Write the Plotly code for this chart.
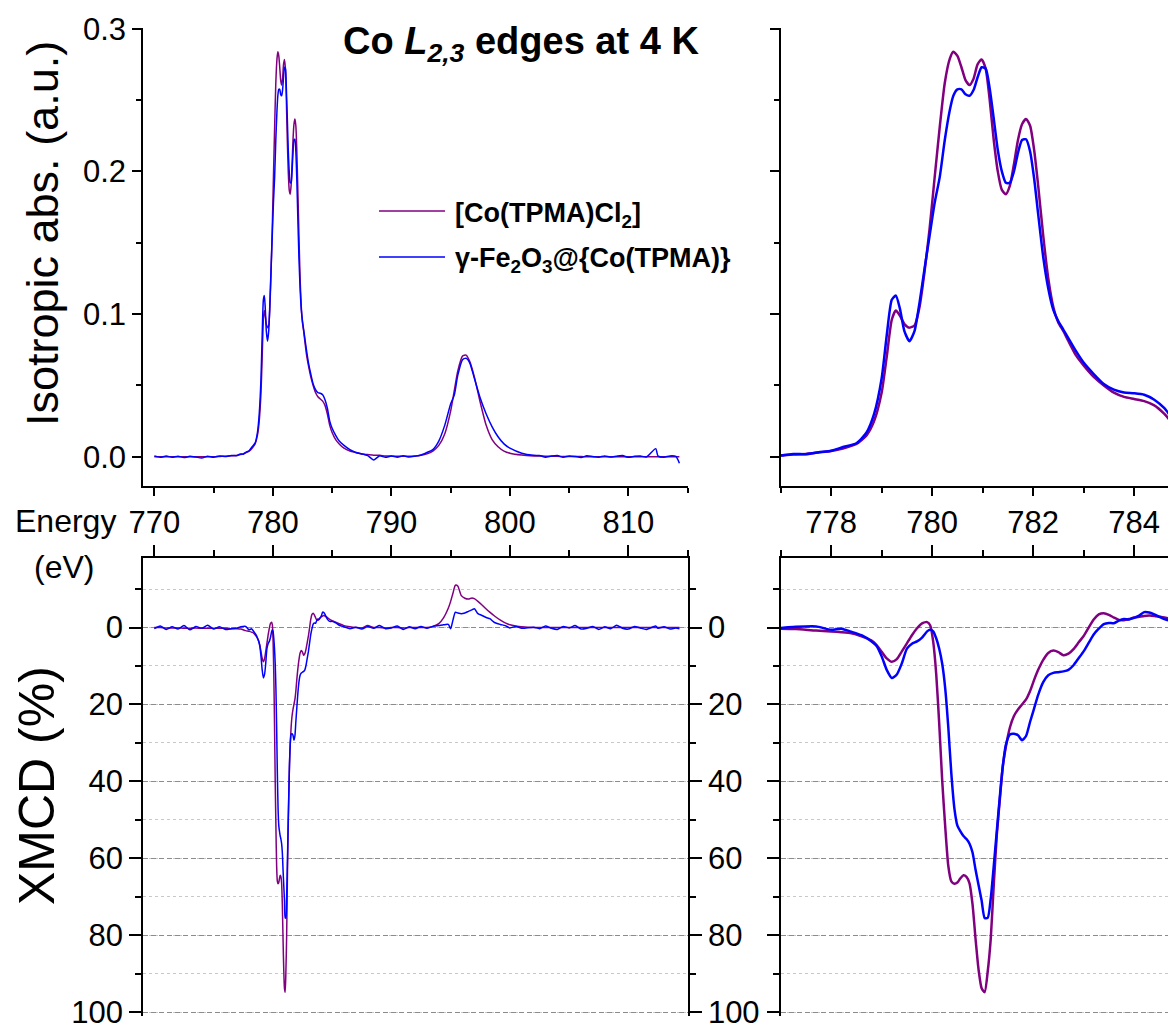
import plotly.graph_objects as go

# the page body keeps its default 8px margin, so the figure is 8px smaller than the window
OFF = 8
W, H = 1176 - OFF, 1027 - OFF
FONT = "Liberation Sans, Arial, sans-serif"
PURPLE = "#800080"
BLUE = "#0000ff"

# ---- isotropic absorption (a.u.) ----
E_ISO = [
    770.0, 770.5, 771.0, 771.5, 772.0, 772.5, 773.0, 773.5, 774.0, 774.5, 775.0, 775.5, 776.0, 776.5,
    777.0, 777.25, 777.5, 777.75, 778.0, 778.25, 778.5, 778.7, 778.85, 779.0, 779.1, 779.2, 779.28,
    779.36, 779.45, 779.55, 779.65, 779.75, 779.85, 779.95, 780.05, 780.15, 780.25, 780.35, 780.42,
    780.5, 780.58, 780.66, 780.74, 780.82, 780.9, 780.98, 781.06, 781.14, 781.22, 781.3, 781.38,
    781.46, 781.54, 781.62, 781.7, 781.78, 781.86, 781.94, 782.02, 782.1, 782.2, 782.3, 782.4, 782.5,
    782.6, 782.7, 782.85, 783.0, 783.2, 783.4, 783.6, 783.8, 784.0, 784.2, 784.4, 784.6, 784.8, 785.0,
    785.3, 785.6, 786.0, 786.5, 787.0,
    787.5, 788.0, 788.5, 789.0, 789.5, 790.0, 790.5, 791.0, 791.5, 792.0, 792.5,
    793.0, 793.5, 794.0, 794.5, 795.0, 795.3, 795.6, 796.0, 796.3, 796.6, 797.0, 797.5, 798.0, 798.5,
    799.0, 799.5, 800.0, 801.0, 802.0,
    802.5, 803.0, 803.5, 804.0, 804.5, 805.0, 805.5, 806.0, 806.5, 807.0, 807.5, 808.0, 808.5, 809.0,
    809.5, 810.0, 810.5, 811.0, 811.5, 812.3, 812.5, 813.0, 813.5, 814.0, 814.3,
]
ISO_COCL2 = [
    0, 0, 0, 0, 0, 0, 0, 0, 0, 0, 0, 0.0002, 0.0004, 0.0007,
    0.001, 0.0015, 0.002, 0.003, 0.004, 0.006, 0.009, 0.015, 0.025, 0.045, 0.07, 0.096, 0.1025,
    0.099, 0.093, 0.0905, 0.092, 0.105, 0.13, 0.16, 0.196, 0.231, 0.262, 0.279, 0.2838,
    0.281, 0.273, 0.264, 0.2605, 0.265, 0.275, 0.2785, 0.272, 0.25, 0.222, 0.2, 0.187,
    0.184, 0.19, 0.205, 0.222, 0.233, 0.2367, 0.232, 0.215, 0.19, 0.155, 0.125, 0.105, 0.094,
    0.088, 0.081, 0.071, 0.064, 0.056, 0.05, 0.045, 0.042, 0.0405, 0.039, 0.036, 0.03, 0.022, 0.017,
    0.012, 0.009, 0.006, 0.004, 0.003,
    0.002, 0.0015, 0.001, 0.001, 0.0005, 0.0005, 0.0003, 0.0003, 0.0003, 0.0005, 0.001,
    0.002, 0.004, 0.008, 0.016, 0.032, 0.046, 0.06, 0.0705, 0.0712, 0.067, 0.056, 0.038, 0.022, 0.012,
    0.007, 0.004, 0.0025, 0.0012, 0.0006,
    0.0005, 0.0004, 0.0003, 0.0003, 0.0002, 0.0002, 0.0001, 0.0001, 0, 0, 0, 0, 0, 0,
    0, 0, 0, 0, 0, 0, 0, 0, 0, 0, 0,
]
ISO_FE2O3 = [
    0.0006, -0.0004, 0.0005, -0.0003, 0.0004, -0.0006, 0.0003, -0.0002, -0.0009, 0.0004, -0.0003, 0.0006, 0.0002, 0.0009,
    0.0008, 0.002, 0.0018, 0.0032, 0.0042, 0.007, 0.0095, 0.017, 0.03, 0.055, 0.085, 0.11, 0.113,
    0.104, 0.088, 0.081, 0.088, 0.108, 0.132, 0.155, 0.178, 0.196, 0.222, 0.243, 0.253,
    0.2575, 0.2575, 0.254, 0.253, 0.257, 0.266, 0.273, 0.272, 0.258, 0.237, 0.215, 0.2,
    0.192, 0.192, 0.2, 0.213, 0.222, 0.2225, 0.214, 0.195, 0.17, 0.14, 0.118, 0.103, 0.095,
    0.089, 0.083, 0.074, 0.066, 0.058, 0.051, 0.047, 0.045, 0.0445, 0.0435, 0.04, 0.034, 0.025, 0.02,
    0.015, 0.011, 0.008, 0.005, 0.003,
    0.002, 0.0008, -0.0022, 0.0006, -0.0004, 0.0005, -0.0003, 0.0007, -0.0002, 0.0004, 0.0012,
    0.003, 0.005, 0.011, 0.022, 0.037, 0.043, 0.057, 0.068, 0.069, 0.066, 0.055, 0.041, 0.03, 0.021,
    0.014, 0.009, 0.006, 0.0025, 0.001,
    0.0008, -0.0003, 0.0005, 0.0009, -0.0004, 0.0006, 0.0002, -0.0005, 0.0007, 0.0001, -0.0003, 0.0006, -0.0002, 0.0004,
    0.0008, -0.0004, 0.0003, 0.0006, -0.0002, 0.0057, 0.0004, -0.0003, 0.0006, 0.0002, -0.0045,
]

# ---- XMCD (%), plotted on a reversed axis ----
E_XMCD = [
    770.0, 770.5, 771.0, 771.5, 772.0, 772.5, 773.0, 773.5, 774.0, 774.5, 775.0, 775.5, 776.0, 776.5,
    777.0, 777.3, 777.7, 778.0, 778.2, 778.4, 778.6, 778.8, 778.9, 779.0, 779.1, 779.2, 779.3, 779.4,
    779.5, 779.6, 779.7, 779.8, 779.9, 779.96, 780.02, 780.08, 780.14, 780.2, 780.26, 780.32, 780.38,
    780.44, 780.5, 780.56, 780.62, 780.68, 780.74, 780.8, 780.86, 780.92, 780.98, 781.04, 781.1,
    781.16, 781.22, 781.28, 781.34, 781.4, 781.46, 781.54, 781.62, 781.7, 781.78, 781.86, 781.94,
    782.02, 782.1, 782.2, 782.3, 782.4, 782.5, 782.6, 782.7, 782.8, 782.9, 783.0, 783.1, 783.2, 783.3,
    783.4, 783.5, 783.6, 783.7, 783.8, 783.9, 784.0, 784.1, 784.2, 784.3, 784.4, 784.5, 784.6, 784.8,
    785.0, 785.3, 785.6, 786.0, 786.5, 787.0,
    787.5, 788.0, 788.5, 789.0, 789.5, 790.0, 790.5, 791.0, 791.5, 792.0, 792.5,
    793.0, 793.5, 794.0, 794.4, 794.8, 795.0, 795.2, 795.4, 795.6, 795.9, 796.2, 796.5, 796.8, 797.0,
    797.3, 797.6, 798.0, 798.3, 798.7, 799.2, 799.6, 800.0, 800.5, 801.0, 802.0,
    802.5, 803.0, 803.5, 804.0, 804.5, 805.0, 805.5, 806.0, 806.5, 807.0, 807.5, 808.0, 808.5, 809.0,
    809.5, 810.0, 810.5, 811.0, 811.5, 812.3, 812.5, 813.0, 813.5, 814.0, 814.3,
]
XMCD_COCL2 = [
    0, 0, 0.1, 0.1, 0.1, 0.2, 0.2, 0.1, 0.2, 0.2, 0.2, 0.2, 0.2, 0.3,
    0.3, 0.4, 0.8, 1.0, 1.2, 1.5, 2.3, 3.4, 4.6, 6.3, 8.0, 8.9, 8.2, 6.2,
    4.1, 2.0, 0.2, -1.1, -1.4, -0.6, 3.6, 12, 25, 40, 52, 62, 66,
    66.6, 66.3, 65.2, 64.4, 64.8, 66.5, 72, 81, 89, 93.8, 94.8, 89.5,
    81, 67, 54, 44.8, 36, 31, 26, 23, 21.3, 20, 18.7, 16.5,
    13.6, 11, 8.4, 6.6, 6.0, 6.4, 7.2, 6.8, 5.6, 3.9, 2.2, 0, -2.1, -3.4,
    -3.7, -3.3, -2.6, -2.0, -1.9, -2.2, -2.6, -2.8, -3.0, -3.1, -3.0, -2.8, -2.6, -2.1,
    -1.8, -1.4, -1.0, -0.5, -0.2, 0,
    0.1, -0.5, 0, 0, 0.1, 0, 0, 0.1, 0, 0, 0,
    0, -0.3, -1.0, -2.5, -5.0, -6.8, -9.0, -11.0, -10.8, -8.3, -7.6, -7.4, -7.7, -7.5,
    -6.8, -6.0, -4.8, -4.0, -3.0, -1.9, -1.2, -0.7, -0.4, -0.2, 0,
    0, 0, 0, 0, 0, 0, 0, 0, 0, 0, 0, 0, 0, 0,
    0, 0, 0, 0, 0, 0, 0, 0, 0, 0, 0,
]
XMCD_FE2O3 = [
    0.3, -0.4, 0.5, -0.2, 0.4, -0.5, 0.6, -0.3, 0.2, -0.6, 0.4, -0.2, 0.5, 0.3,
    0.1, -0.2, -0.3, 0.6, 0.3, 1.1, 2.0, 3.6, 4.8, 7.5, 11, 13.1, 12.2, 9.3,
    5.5, 4.2, 3.6, 2.6, 1.0, 0.6, 1.0, 2.8, 5.5, 9.5, 16, 26, 38,
    47, 51.5, 53, 54.2, 55, 56.2, 58.5, 63, 67, 71, 75.5, 75.5,
    70.5, 62, 53, 44, 36, 30.5, 27.8, 27.6, 28, 29.3, 28.2, 24.5,
    21, 17.5, 14.2, 12.4, 11.8, 11.6, 11.4, 11.0, 9.8, 8.0, 6.2, 4.0, 1.8, 0.3,
    -0.9, -1.2, -1.1, -1.8, -2.2, -2.1, -2.5, -3.1, -4.0, -3.9, -3.4, -2.8, -2.2, -1.6,
    -1.6, -1.2, -0.6, -0.2, 0.3, -0.1,
    0.4, -0.3, 0.2, -0.5, 0.3, 0.1, -0.4, 0.5, -0.2, 0.3, -0.3,
    0.2, -0.3, -0.5, -0.7, -0.8, 0.3, -2.0, -4.0, -3.8, -3.6, -3.8, -4.2, -4.6, -4.9,
    -3.6, -3.2, -2.6, -2.3, -1.3, -0.8, -0.5, 0.1, -0.3, 0.2, -0.1,
    0.3, -0.4, 0.2, 0.5, -0.3, 0.1, -0.5, 0.4, 0.2, -0.3, 0.5, -0.2, 0.3, -0.6,
    0.2, 0.4, -0.3, 0.1, 0.5, -0.4, 0.2, -0.2, 0.4, 0.1, 0.3,
]

ISO_TICKS = [0.0, 0.1, 0.2, 0.3]
XMCD_TICKS = [0, 20, 40, 60, 80, 100]
NAMES = ["[Co(TPMA)Cl<sub>2</sub>]", "γ-Fe<sub>2</sub>O<sub>3</sub>@{Co(TPMA)}"]


# positions below are measured in window pixels, shifted by the page margin
def px(x):
    return (x - OFF) / W


def py(y):
    return 1 - (y - OFF) / H


fig = go.Figure()

# isotropic, full range and zoom
for xa, ya, lw in [("x", "y", 1.5), ("x2", "y2", 2.5)]:
    fig.add_trace(go.Scatter(x=E_ISO, y=ISO_COCL2, xaxis=xa, yaxis=ya, mode="lines",
                             line=dict(color=PURPLE, width=lw, shape="spline", smoothing=0.6)))
    fig.add_trace(go.Scatter(x=E_ISO, y=ISO_FE2O3, xaxis=xa, yaxis=ya, mode="lines",
                             line=dict(color=BLUE, width=lw, shape="spline", smoothing=0.6)))

# XMCD, full range (blue on the right-hand labelled axis) and zoom
fig.add_trace(go.Scatter(x=E_XMCD, y=XMCD_COCL2, xaxis="x3", yaxis="y3", mode="lines",
                         line=dict(color=PURPLE, width=1.5, shape="spline", smoothing=0.6)))
fig.add_trace(go.Scatter(x=E_XMCD, y=XMCD_FE2O3, xaxis="x3", yaxis="y5", mode="lines",
                         line=dict(color=BLUE, width=1.5, shape="spline", smoothing=0.6)))
fig.add_trace(go.Scatter(x=E_XMCD, y=XMCD_COCL2, xaxis="x4", yaxis="y4", mode="lines",
                         line=dict(color=PURPLE, width=2.5, shape="spline", smoothing=0.6)))
fig.add_trace(go.Scatter(x=E_XMCD, y=XMCD_FE2O3, xaxis="x4", yaxis="y4", mode="lines",
                         line=dict(color=BLUE, width=2.5, shape="spline", smoothing=0.6)))

axis_common = dict(showline=True, linecolor="black", linewidth=2, ticks="outside", tickwidth=2,
                   tickcolor="black", showgrid=False, zeroline=False, automargin=False,
                   ticklabeloverflow="allow",
                   tickfont=dict(family=FONT, size=31, color="black"))

left_dom = [px(143.3), px(687.7)]
right_dom = [px(780.7), 1.0]
top_dom = [py(486), py(28)]
bot_dom = [py(1016), py(558.3)]

iso_y = dict(axis_common, range=[-0.0205, 0.3005], tickvals=ISO_TICKS, tickformat=".1f", ticklen=9,
             minor=dict(dtick=0.05, tick0=0, ticklen=5, tickwidth=2, ticks="outside", tickcolor="black"))
xmcd_y = dict(axis_common, range=[101, -18], tickvals=XMCD_TICKS, ticklen=12,
              showgrid=True, gridcolor="#8c8c8c", gridwidth=1, griddash="5px,3px",
              minor=dict(dtick=10, tick0=0, ticklen=6, tickwidth=2, ticks="outside", tickcolor="black",
                         showgrid=True, gridcolor="#c8c8c8", gridwidth=1, griddash="dot"))

fig.update_layout(
    template="none",
    width=W, height=H,
    margin=dict(l=0, r=0, t=0, b=0, autoexpand=False),
    paper_bgcolor="white", plot_bgcolor="rgba(0,0,0,0)",
    showlegend=False,
    font=dict(family=FONT, color="black"),
    xaxis=dict(axis_common, domain=left_dom, anchor="y", range=[769.07, 815], dtick=10, tick0=770,
               ticklen=8, minor=dict(dtick=5, tick0=770, ticklen=5, tickwidth=2, ticks="outside", tickcolor="black")),
    yaxis=dict(iso_y, domain=top_dom, anchor="x"),
    xaxis2=dict(axis_common, domain=right_dom, anchor="y2", range=[777, 784.83], dtick=2, tick0=778,
                ticklen=8, minor=dict(dtick=1, tick0=778, ticklen=5, tickwidth=2, ticks="outside", tickcolor="black")),
    yaxis2=dict(iso_y, domain=top_dom, anchor="x2", showticklabels=False),
    xaxis3=dict(axis_common, domain=left_dom, anchor="y3", side="top", range=[769.07, 815], dtick=10,
                tick0=770, ticklen=11, showticklabels=False,
                minor=dict(dtick=5, tick0=770, ticklen=6, tickwidth=2, ticks="outside", tickcolor="black")),
    yaxis3=dict(xmcd_y, domain=bot_dom, anchor="x3"),
    yaxis5=dict(xmcd_y, overlaying="y3", side="right", anchor="x3", showgrid=False,
                minor=dict(dtick=10, tick0=0, ticklen=6, tickwidth=2, ticks="outside", tickcolor="black",
                           showgrid=False)),
    xaxis4=dict(axis_common, domain=right_dom, anchor="y4", side="top", range=[777, 784.83], dtick=2,
                tick0=778, ticklen=11, showticklabels=False,
                minor=dict(dtick=1, tick0=778, ticklen=6, tickwidth=2, ticks="outside", tickcolor="black")),
    yaxis4=dict(xmcd_y, domain=bot_dom, anchor="x4", showticklabels=False),
)

annotations = [
    dict(text="<b>Co <i>L</i><sub><i>2,3</i></sub> edges at 4 K</b>", x=px(521), y=py(44),
         font=dict(size=38)),
    dict(text="Isotropic abs. (a.u.)", x=px(42), y=py(234), textangle=-90, font=dict(size=45)),
    dict(text="XMCD (%)", x=px(37), y=py(786), textangle=-90, font=dict(size=50)),
    dict(text="Energy", x=px(118), y=py(521), xanchor="right", font=dict(size=32)),
    dict(text="(eV)", x=px(64), y=py(567), font=dict(size=32)),
    dict(text="<b>" + NAMES[0] + "</b>", x=px(453), y=py(215), xanchor="left", font=dict(size=27)),
    dict(text="<b>" + NAMES[1] + "</b>", x=px(453), y=py(260), xanchor="left", font=dict(size=27)),
]
for a in annotations:
    a.setdefault("xanchor", "center")
    a.setdefault("yanchor", "middle")
    a.update(xref="paper", yref="paper", showarrow=False)
    a["font"].update(family=FONT, color="black")
fig.update_layout(annotations=annotations)

for yy, col in [(211, PURPLE), (257, BLUE)]:
    fig.add_shape(type="line", xref="paper", yref="paper", x0=px(379), x1=px(445), y0=py(yy), y1=py(yy),
                  line=dict(color=col, width=1.5))

fig.write_html("out.html")
